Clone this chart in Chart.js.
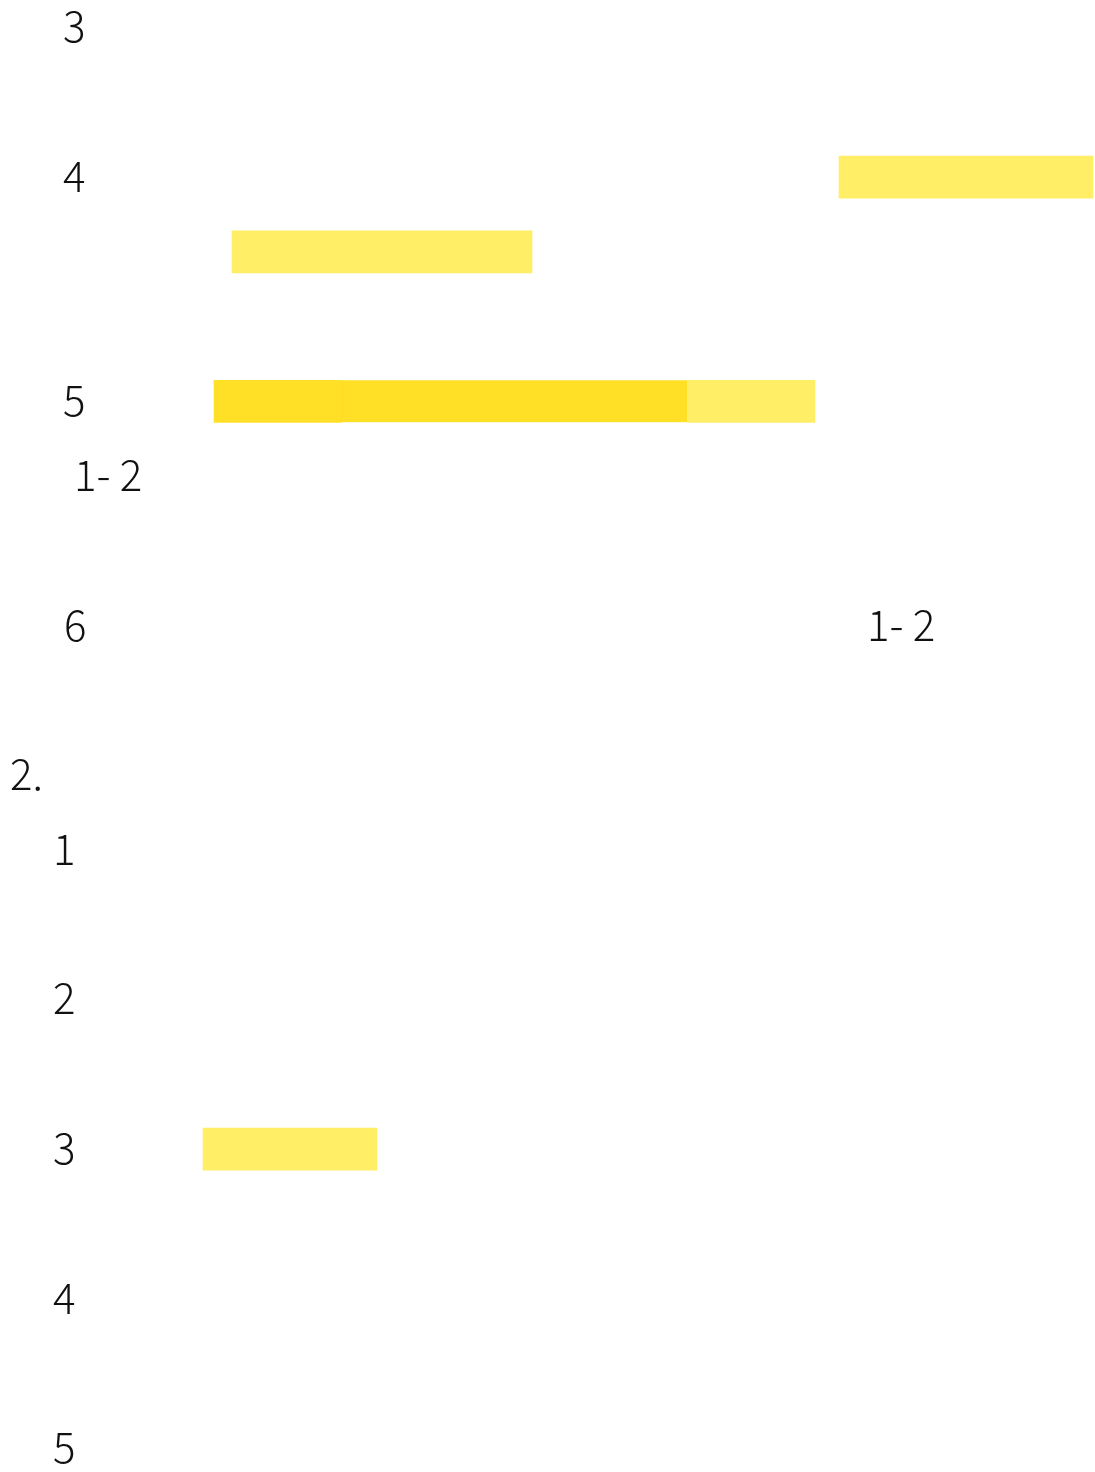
<!DOCTYPE html>
<html>
<head>
<meta charset="utf-8">
<script src="https://cdn.jsdelivr.net/npm/chart.js@4/dist/chart.umd.min.js"></script>
<style>
html,body{margin:0;padding:0;background:#fff;}
#wrap{width:1095px;height:1472px;}
</style>
</head>
<body>
<div id="wrap"><canvas id="c" width="1095" height="1472"></canvas></div>
<script>
// Rows of the page (0 = top line)
const rowCount = 20;

// Text labels on the page
const labelRows  = [0, 2, 5, 6, 8, 8, 10, 11, 13, 15, 17, 19];
const labelTexts = ['3', '4', '5', '1- 2', '6', '1- 2', '2.', '1', '2', '3', '4', '5'];
const labelCols  = [63, 63, 63, 74, 64, 867, 10, 53, 53, 53, 53, 53];

// Light highlight spans
const lightRows  = [2, 3, 5, 15];
const lightStart = [839, 232, 687, 203];
const lightEnd   = [1093, 532, 815, 377];

// Strong highlight spans (two adjacent pieces on row 5)
const strongARows  = [5];
const strongAStart = [214];
const strongAEnd   = [342];
const strongBRows  = [5];
const strongBStart = [342];
const strongBEnd   = [687];

function spans(rows, s, e){ return rows.map((r,i)=>({y:r, x:[s[i], e[i]]})); }

const textPlugin = {
  id:'pageText',
  afterDatasetsDraw(chart){
    const {ctx, scales:{x, y}} = chart;
    ctx.save();
    ctx.font = '300 42px "Noto Sans CJK JP", "Noto Sans", sans-serif';
    ctx.fillStyle = '#111';
    ctx.textAlign = 'left';
    ctx.textBaseline = 'middle';
    labelTexts.forEach((t,i)=>{
      ctx.fillText(t, x.getPixelForValue(labelCols[i]), y.getPixelForValue(labelRows[i]) - 1);
    });
    ctx.restore();
  }
};

new Chart(document.getElementById('c'), {
  type:'bar',
  data:{
    datasets:[
      {label:'strong A', data:spans(strongARows, strongAStart, strongAEnd), backgroundColor:'#FFE027', borderWidth:0},
      {label:'strong B', data:spans(strongBRows, strongBStart, strongBEnd), backgroundColor:'#FFE027',
        borderColor:'#FFD21A', borderWidth:{left:1, right:0, top:0, bottom:0}, borderSkipped:false},
      {label:'light', data:spans(lightRows, lightStart, lightEnd), backgroundColor:'#FFEE66', borderWidth:0}
    ]
  },
  options:{
    indexAxis:'y',
    responsive:false,
    animation:false,
    events:[],
    layout:{padding:0},
    datasets:{bar:{barThickness:42, grouped:false}},
    scales:{
      x:{type:'linear', min:0, max:1095, display:false, offset:false, grace:0},
      y:{type:'linear', min:-0.368, max:19.319, reverse:true, display:false, offset:false, grace:0,
         grid:{offset:false}}
    },
    plugins:{legend:{display:false}, tooltip:{enabled:false}}
  },
  plugins:[textPlugin]
});
</script>
</body>
</html>
